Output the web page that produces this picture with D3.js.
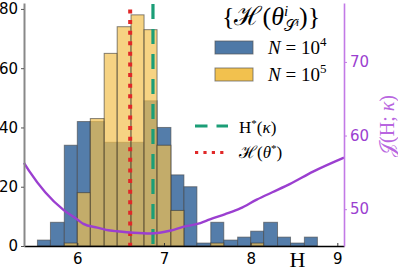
<!DOCTYPE html>
<html>
<head>
<meta charset="utf-8">
<script src="https://cdn.jsdelivr.net/npm/d3@7"></script>
<style>
  body { margin: 0; background: #fff; }
  svg { display: block; }
  .tick text { font-family: "DejaVu Sans", sans-serif; }
</style>
</head>
<body>
<svg id="chart" width="398" height="271"></svg>
<script>
// histogram bin edges (H)
const binEdges = [5.54, 5.69, 5.85, 6.00, 6.15, 6.31, 6.46, 6.62, 6.77, 6.92, 7.08,
                  7.23, 7.38, 7.54, 7.69, 7.85, 8.00, 8.15, 8.31, 8.46, 8.62, 8.77];
// counts per bin
const countsN4 = [2, 8, 34, 42, 42, 35, 35, 35, 49, 40, 24, 20, 1, 8, 2, 3, 5, 8, 3, 1, 3];
const countsN5 = [0, 0, 1, 18, 43, 65, 74, 78, 73, 34, 12, 0, 0, 1, 0, 0, 1, 0, 0, 0, 0];
// objective curve J(H; kappa)
const curveH = [5.385, 5.45, 5.63, 5.84, 6.00, 6.07, 6.23, 6.38, 6.46, 6.65, 6.84, 6.95,
                7.08, 7.22, 7.42, 7.53, 7.70, 7.88, 8.07, 8.25, 8.45, 8.72, 9.077];
const curveJ = [56.3, 55.1, 52.3, 49.9, 48.6, 48.0, 47.5, 47.1, 47.0, 46.8, 46.7, 46.8,
                47.1, 47.6, 48.1, 48.6, 49.3, 50.1, 51.3, 52.3, 53.4, 55.1, 57.0];
const hStar = 6.873;      // H*(kappa)
const hTheta = 6.61;      // H(theta*)
const xTicks = [6, 7, 8, 9];
const yTicks = [0, 20, 40, 60, 80];
const jTicks = [50, 60, 70];

const svg = d3.select('#chart');
const mLeft = 24, mRight = 344, mTop = 3, mBottom = 246;

const x = d3.scaleLinear().domain([5.385, 9.077]).range([mLeft, mRight]);
const y = d3.scaleLinear().domain([0, 82]).range([mBottom, mTop]);
const yJ = d3.scaleLinear().domain([45, 78]).range([mBottom, mTop]);

const blue = '#4e79a7', yellow = '#f2c14e', purple = '#9b3fd0';

// bars
const bins4 = countsN4.map((c, i) => ({ x0: binEdges[i], x1: binEdges[i + 1], c }));
const bins5 = countsN5.map((c, i) => ({ x0: binEdges[i], x1: binEdges[i + 1], c }));

svg.append('g').selectAll('rect').data(bins4.filter(d => d.c > 0)).join('rect')
  .attr('x', d => x(d.x0)).attr('width', d => x(d.x1) - x(d.x0))
  .attr('y', d => y(d.c)).attr('height', d => y(0) - y(d.c))
  .attr('fill', blue).attr('fill-opacity', 0.97)
  .attr('stroke', '#444').attr('stroke-opacity', 0.6).attr('stroke-width', 1);

svg.append('g').selectAll('rect').data(bins5.filter(d => d.c > 0)).join('rect')
  .attr('x', d => x(d.x0)).attr('width', d => x(d.x1) - x(d.x0))
  .attr('y', d => y(d.c)).attr('height', d => y(0) - y(d.c))
  .attr('fill', yellow).attr('fill-opacity', 0.7)
  .attr('stroke', '#333').attr('stroke-opacity', 0.6).attr('stroke-width', 1);

// vertical reference lines
svg.append('line')
  .attr('x1', x(hStar)).attr('x2', x(hStar)).attr('y1', mTop + 1).attr('y2', mBottom)
  .attr('stroke', '#1b9e77').attr('stroke-width', 3.2).attr('stroke-dasharray', '15 10');
svg.append('line')
  .attr('x1', x(hTheta)).attr('x2', x(hTheta)).attr('y1', y(80) + 0.5).attr('y2', mBottom)
  .attr('stroke', '#e02828').attr('stroke-width', 4).attr('stroke-dasharray', '4 6.6');

// J curve
svg.append('path')
  .datum(curveH.map((h, i) => [h, curveJ[i]]))
  .attr('fill', 'none').attr('stroke', purple).attr('stroke-width', 2.4)
  .attr('d', d3.line().x(d => x(d[0])).y(d => yJ(d[1])).curve(d3.curveMonotoneX));

// axes
const gx = svg.append('g').attr('transform', `translate(0,${mBottom})`)
  .call(d3.axisBottom(x).tickValues(xTicks).tickFormat(d3.format('d')).tickSizeInner(-3).tickSizeOuter(0).tickPadding(7));
gx.select('.domain').attr('stroke', '#000').attr('stroke-width', 1.6);
gx.selectAll('.tick line').attr('stroke', '#333');
gx.selectAll('.tick text').attr('font-size', 15).attr('fill', '#000');

const gy = svg.append('g').attr('transform', `translate(${mLeft},0)`)
  .call(d3.axisLeft(y).tickValues(yTicks).tickSizeInner(3).tickSizeOuter(0).tickPadding(3));
gy.select('.domain').attr('stroke', '#888').attr('stroke-width', 2);
gy.selectAll('.tick line').attr('stroke', '#555');
gy.selectAll('.tick text').attr('font-size', 15).attr('fill', '#000');

const gj = svg.append('g').attr('transform', `translate(${mRight},0)`)
  .call(d3.axisRight(yJ).tickValues(jTicks).tickSizeInner(3).tickSizeOuter(0).tickPadding(3));
gj.select('.domain').attr('stroke', '#c27ae6').attr('stroke-width', 1.6);
gj.selectAll('.tick line').attr('stroke', '#c27ae6');
gj.selectAll('.tick text').attr('font-size', 15).attr('fill', purple);

// math text helper: one <text>, parts as positioned tspans
const serif = '"Liberation Serif", "DejaVu Serif", serif';
function mathRow(g, x0, y0, size, parts, color) {
  const t = g.append('text').attr('font-family', serif).attr('font-size', size)
    .attr('fill', color || '#000');
  let cx = x0;
  let stackStart = null, stackEnd = x0;
  parts.forEach(p => {
    if (p.stack === 'start') { stackStart = cx; stackEnd = cx; }
    const px = p.stack === 'second' ? stackStart : cx;
    const s = t.append('tspan').attr('x', px).attr('y', y0 + (p.dy || 0))
      .attr('font-size', p.size || size)
      .attr('font-style', p.it ? 'italic' : 'normal').text(p.t);
    const w = s.node().getComputedTextLength();
    if (p.stack === 'start') { stackEnd = px + w; cx = px + w; }
    else if (p.stack === 'second') { cx = px + w; stackEnd = Math.max(stackEnd, cx); }
    else if (p.stack === 'inner') { cx = cx + w; stackEnd = Math.max(stackEnd, cx); }
    else { cx = Math.max(cx, stackEnd) + w; stackEnd = cx; }
  });
  return cx - x0;
}

const leg = svg.append('g');
// legend title
mathRow(leg, 222, 25, 26, [
  { t: '{ℋ(' },
  { t: 'θ', it: true },
  { t: 'i', it: true, size: 15, dy: -9, stack: 'start' },
  { t: '𝒮', size: 16, dy: 6, stack: 'second' },
  { t: 'i', it: true, size: 11, dy: 1, stack: 'inner' },
  { t: ')}' }
]);

// histogram legend
const swatches = [[blue, 41, '4'], [yellow, 68, '5']];
swatches.forEach(([c, sy, e]) => {
  leg.append('rect').attr('x', 215).attr('y', sy).attr('width', 38).attr('height', 13)
    .attr('fill', c).attr('stroke', '#555').attr('stroke-opacity', 0.7);
  mathRow(leg, 268, sy + 13, 19, [
    { t: 'N', it: true }, { t: '\u00a0=\u00a010' }, { t: e, size: 13, dy: -8 }
  ]);
});

// line legend
leg.append('line').attr('x1', 195).attr('x2', 228).attr('y1', 126).attr('y2', 126)
  .attr('stroke', '#1b9e77').attr('stroke-width', 3.2).attr('stroke-dasharray', '12.5 9');
leg.append('line').attr('x1', 195).attr('x2', 228).attr('y1', 152.5).attr('y2', 152.5)
  .attr('stroke', '#e02828').attr('stroke-width', 3.2).attr('stroke-dasharray', '3.2 5.2');
mathRow(leg, 239, 133, 17, [
  { t: 'H' }, { t: '*', size: 11, dy: -6 }, { t: '(' }, { t: 'κ', it: true }, { t: ')' }
]);
mathRow(leg, 239, 158, 17, [
  { t: 'ℋ(' }, { t: 'θ', it: true }, { t: '*', size: 11, dy: -6 }, { t: ')' }
]);

// axis labels
svg.append('text').attr('x', 297.5).attr('y', 267).attr('text-anchor', 'middle')
  .attr('font-family', serif).attr('font-size', 22).text('H');

const jl = svg.append('g');
const jw = mathRow(jl, 0, 0, 20, [
  { t: '𝒥(H;\u00a0' }, { t: 'κ', it: true }, { t: ')' }
], '#b866e0');
jl.attr('transform', `translate(394,${126 + jw / 2}) rotate(-90)`);
</script>
</body>
</html>
